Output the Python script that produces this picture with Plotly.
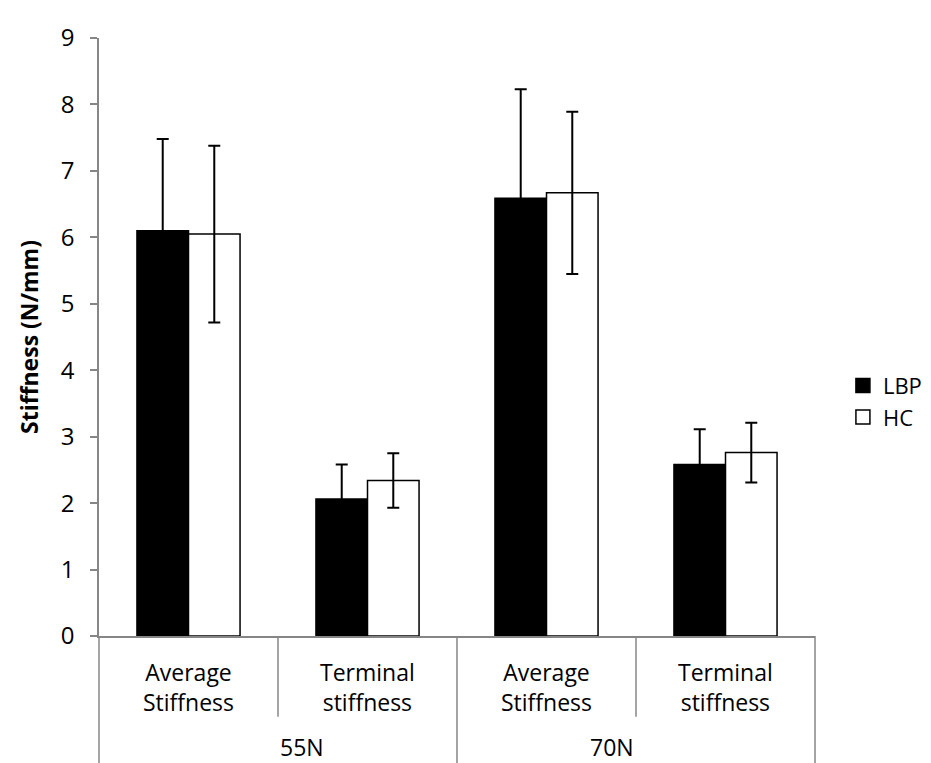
import plotly.graph_objects as go

# ---- data ----
groups = ["55N", "70N"]
categories = ["55N|Average", "55N|Terminal", "70N|Average", "70N|Terminal"]
inner_labels = ["Average<br>Stiffness", "Terminal<br>stiffness", "Average<br>Stiffness", "Terminal<br>stiffness"]
lbp_values = [6.10, 2.06, 6.59, 2.58]
lbp_err = [1.38, 0.52, 1.64, 0.53]
hc_values = [6.05, 2.34, 6.67, 2.76]
hc_err = [1.33, 0.41, 1.22, 0.45]
y_ticks = list(range(0, 10))

FONT = "Open Sans"
FS = 23
AXIS_COLOR = "#868686"

fig = go.Figure()
fig.add_trace(go.Bar(
    x=categories, y=lbp_values, name="LBP",
    marker=dict(color="black", line=dict(color="black", width=1.5)),
    error_y=dict(type="data", array=lbp_err, visible=True, color="black", thickness=2, width=6),
    showlegend=False,
))
fig.add_trace(go.Bar(
    x=categories, y=hc_values, name="HC",
    marker=dict(color="white", line=dict(color="black", width=1.5)),
    error_y=dict(type="data", array=hc_err, visible=True, color="black", thickness=2, width=6),
    showlegend=False,
))
# legend entries
fig.add_trace(go.Scatter(x=[None], y=[None], mode="markers", name="LBP",
                         marker=dict(symbol="square", size=14, color="black",
                                     line=dict(color="black", width=1.5))))
fig.add_trace(go.Scatter(x=[None], y=[None], mode="markers", name="HC",
                         marker=dict(symbol="square", size=14, color="white",
                                     line=dict(color="black", width=1.5))))

ncat = len(categories)
shapes = []
for i in range(ncat + 1):
    xp = i / ncat
    outer = (i % 2 == 0)
    shapes.append(dict(type="line", xref="paper", yref="paper", x0=xp, x1=xp,
                       y0=0, y1=-0.23 if outer else -0.135,
                       line=dict(color=AXIS_COLOR, width=1.5)))

annotations = []
for i, lab in enumerate(inner_labels):
    annotations.append(dict(x=categories[i], xref="x", y=-0.085, yref="paper",
                            text=lab, showarrow=False, yanchor="middle",
                            font=dict(family=FONT, size=FS, color="black")))
for g, lab in enumerate(groups):
    annotations.append(dict(x=(2 * g + 1) / ncat, xref="paper", y=-0.186, yref="paper",
                            text=lab, showarrow=False, yanchor="middle",
                            font=dict(family=FONT, size=FS, color="black")))

fig.update_layout(
    width=931, height=763,
    margin=dict(l=91, r=104, t=19, b=135),
    paper_bgcolor="white", plot_bgcolor="white",
    barmode="group", bargap=0.424, bargroupgap=0,
    font=dict(family=FONT, size=FS, color="black"),
    shapes=shapes, annotations=annotations,
    legend=dict(x=1.039, xanchor="left", y=0.392, yanchor="middle",
                bgcolor="rgba(0,0,0,0)", font=dict(family=FONT, size=22)),
    xaxis=dict(type="category", categoryorder="array", categoryarray=categories,
               showticklabels=False, ticks="", showline=True, linecolor=AXIS_COLOR,
               linewidth=1.5, showgrid=False, zeroline=False),
    yaxis=dict(range=[0, 9], tickvals=y_ticks, ticks="outside", ticklen=7,
               tickcolor=AXIS_COLOR, tickwidth=1.5, showline=True, linecolor=AXIS_COLOR,
               linewidth=1.5, showgrid=False, zeroline=False, ticklabelstandoff=11,
               tickfont=dict(family=FONT, size=24),
               title=dict(text="<b>Stiffness (N/mm)</b>", standoff=16,
                          font=dict(family=FONT, size=23))),
)

fig.write_html("out.html")
